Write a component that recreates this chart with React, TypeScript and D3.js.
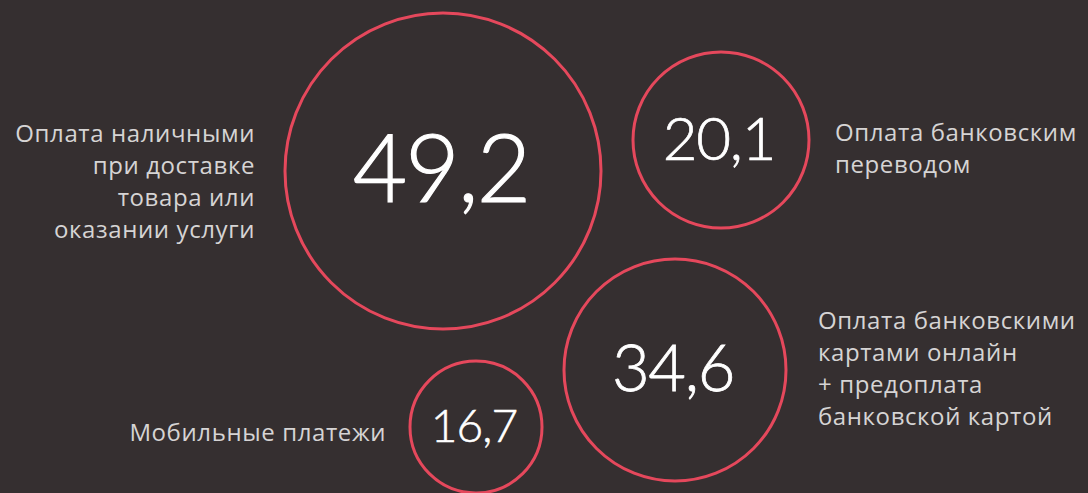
import React, { useEffect, useRef } from 'react';
import * as d3 from 'd3';

// Values shown in the bubbles (share, %)
const values = [49.2, 20.1, 34.6, 16.7];
const valueLabels = ['49,2', '20,1', '34,6', '16,7'];

// Category captions, one line per entry
const captions = [
  ['Оплата наличными', 'при доставке', 'товара или', 'оказании услуги'],
  ['Оплата банковским', 'переводом'],
  ['Оплата банковскими', 'картами онлайн', '+ предоплата', 'банковской картой'],
  ['Мобильные платежи'],
];

// Hand-placed bubble layout (centres + caption side)
const layout = [
  { cx: 443, cy: 171, side: 'left', lx: 255, ly: 142 },
  { cx: 721, cy: 140, side: 'right', lx: 835, ly: 141 },
  { cx: 675, cy: 370, side: 'right', lx: 818, ly: 329 },
  { cx: 476, cy: 427, side: 'left', lx: 386, ly: 441 },
];

const width = 1088;
const height = 493;

const App = () => {
  const svgRef = useRef<SVGSVGElement>(null);

  useEffect(() => {
    if (!svgRef.current) return;
    const svg = d3.select(svgRef.current);
    svg.selectAll('*').remove();

    svg.append('rect')
      .attr('width', width)
      .attr('height', height)
      .attr('fill', '#352f30');

    // bubbles are not strictly area-proportional in the source, so piecewise scale
    const sorted = [...values].sort(d3.ascending);
    const rScale = d3.scaleLinear().domain(sorted).range([66, 88, 111, 158]);
    const fontScale = d3.scaleLinear().domain(sorted).range([46, 60, 65, 94]);

    const g = svg.append('g');

    values.forEach((v, i) => {
      const pos = layout[i];
      g.append('circle')
        .attr('cx', pos.cx)
        .attr('cy', pos.cy)
        .attr('r', rScale(v))
        .attr('fill', 'none')
        .attr('stroke', '#e5485c')
        .attr('stroke-width', 3);

      const fs = fontScale(v);
      g.append('text')
        .attr('x', pos.cx - 2)
        .attr('y', pos.cy + fs * 0.33)
        .attr('text-anchor', 'middle')
        .style('font-family', 'Lato, "Open Sans", sans-serif')
        .style('font-weight', 300)
        .style('letter-spacing', `${-fs * 0.02}px`)
        .style('font-size', `${fs}px`)
        .style('fill', '#ffffff')
        .style('stroke', '#ffffff')
        .style('stroke-width', `${fs * 0.012}px`)
        .text(valueLabels[i]);

      const cap = g.append('text')
        .attr('text-anchor', pos.side === 'left' ? 'end' : 'start')
        .style('font-family', '"Open Sans", sans-serif')
        .style('font-size', '24px')
        .style('letter-spacing', '0.6px')
        .style('fill', '#d6d4d4');

      captions[i].forEach((line, j) => {
        cap.append('tspan')
          .attr('x', pos.lx)
          .attr('y', pos.ly + j * 32)
          .text(line);
      });
    });
  }, []);

  return (
    <svg
      ref={svgRef}
      width={width}
      height={height}
      style={{ position: 'absolute', left: 0, top: 0, display: 'block' }}
    ></svg>
  );
};

export default App;
